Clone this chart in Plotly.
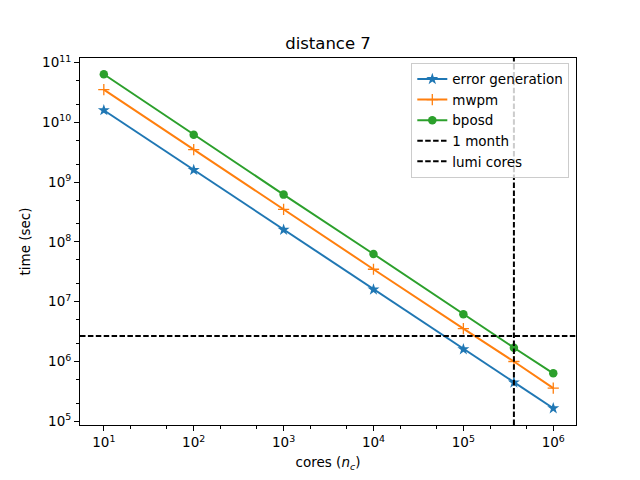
import plotly.graph_objects as go

# cores used, last point is the lumi machine size
cores = [1e1, 1e2, 1e3, 1e4, 1e5, 3.65e5, 1e6]

error_generation = [1.6e10, 1.6e9, 1.6e8, 1.6e7, 1.6e6, 4.45e5, 1.65e5]
mwpm = [3.55e10, 3.5e9, 3.5e8, 3.5e7, 3.55e6, 1.0e6, 3.58e5]
bposd = [6.4e10, 6.2e9, 6.2e8, 6.3e7, 6.2e6, 1.7e6, 6.35e5]

one_month = 2678400  # sec
lumi_cores = 3.65e5

x_ticks = [1e1, 1e2, 1e3, 1e4, 1e5, 1e6]
x_ticktext = ["10<sup>1</sup>", "10<sup>2</sup>", "10<sup>3</sup>",
              "10<sup>4</sup>", "10<sup>5</sup>", "10<sup>6</sup>"]
y_ticks = [1e5, 1e6, 1e7, 1e8, 1e9, 1e10, 1e11]
y_ticktext = ["10<sup>5</sup>", "10<sup>6</sup>", "10<sup>7</sup>", "10<sup>8</sup>",
              "10<sup>9</sup>", "10<sup>10</sup>", "10<sup>11</sup>"]

x_range = [0.735, 6.253]
y_range = [4.938, 11.078]

fig = go.Figure()

fig.add_trace(go.Scatter(x=cores, y=error_generation, mode="lines+markers", name="error generation",
                         line=dict(color="#1f77b4", width=2),
                         marker=dict(symbol="star", size=9, color="#1f77b4")))
fig.add_trace(go.Scatter(x=cores, y=mwpm, mode="lines+markers", name="mwpm",
                         line=dict(color="#ff7f0e", width=2),
                         marker=dict(symbol="cross-thin", size=8, color="#ff7f0e",
                                     line=dict(color="#ff7f0e", width=1.3))))
fig.add_trace(go.Scatter(x=cores, y=bposd, mode="lines+markers", name="bposd",
                         line=dict(color="#2ca02c", width=2),
                         marker=dict(symbol="circle", size=8.5, color="#2ca02c")))

# axhline / axvline, drawn across the whole axes
fig.add_trace(go.Scatter(x=[10 ** x_range[0], 10 ** x_range[1]], y=[one_month, one_month],
                         mode="lines", name="1 month",
                         line=dict(color="black", width=2, dash="5.5px,2.4px")))
fig.add_trace(go.Scatter(x=[lumi_cores, lumi_cores], y=[10 ** y_range[0], 10 ** y_range[1]],
                         mode="lines", name="lumi cores",
                         line=dict(color="black", width=2, dash="5.5px,2.4px")))

axis_common = dict(
    type="log", showgrid=False, zeroline=False,
    showline=True, linecolor="black", linewidth=1, mirror=True,
    ticks="outside", ticklen=5, tickwidth=1, tickcolor="black",
    tickfont=dict(size=13.5, color="black"),
    minor=dict(ticks="outside", ticklen=3, tickwidth=0.8, tickcolor="black", showgrid=False),
)

fig.update_xaxes(range=x_range, tickvals=x_ticks, ticktext=x_ticktext,
                 title=dict(text="cores (<i>n<sub>c</sub></i>)", font=dict(size=13.5), standoff=8),
                 **axis_common)
fig.update_yaxes(range=y_range, tickvals=y_ticks, ticktext=y_ticktext,
                 title=dict(text="time (sec)", font=dict(size=13.5), standoff=8),
                 **axis_common)

fig.update_layout(
    width=640, height=480,
    margin=dict(l=80, r=64, t=57.6, b=52.8),
    paper_bgcolor="white", plot_bgcolor="white",
    font=dict(family="DejaVu Sans", color="black", size=13.5),
    title=dict(text="distance 7", x=0.5125, xanchor="center", y=0.91, yanchor="middle",
               font=dict(size=16.5)),
    legend=dict(x=0.9865, y=0.987, xanchor="right", yanchor="top",
                bgcolor="rgba(255,255,255,0.8)", bordercolor="#cccccc", borderwidth=1,
                font=dict(size=13.5), tracegroupgap=0, itemwidth=30),
    showlegend=True,
)

# the page body has a default 8px margin, drop it so the figure sits at 0,0
fig.write_html("out.html", config={"displayModeBar": False},
               post_script="document.body.style.margin='0';")
